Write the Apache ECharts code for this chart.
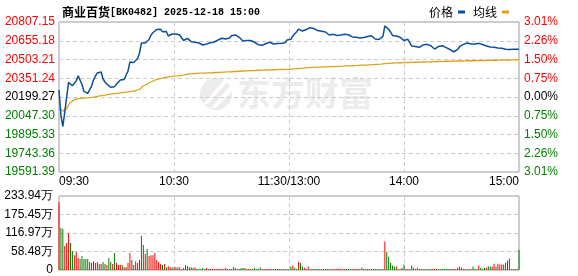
<!DOCTYPE html>
<html><head><meta charset="utf-8">
<script src="https://cdn.jsdelivr.net/npm/echarts@6/dist/echarts.min.js"></script>
<style>html,body{margin:0;padding:0;background:#fff}#c{width:578px;height:276px}</style>
</head><body><div id="c"></div>
<script>
const titleName = '商业百货';
const titleInfo = '[BK0482] 2025-12-18 15:00';
const preClose = 20199.27;
const priceStep = 151.97;
const volMax = 233.94;
const volStep = 58.485;
const tickIdx = [0, 60, 120, 180, 240];
const tickLabels = ['09:30', '10:30', '11:30/13:00', '14:00', '15:00'];
const seriesNames = ['价格', '均线'];

const price = [
20256,20050,19960,20075,20200,20318,20305,20290,20282,20330,
20372,20361,20300,20245,20232,20229,20240,20288,20337,20369,
20394,20390,20402,20345,20321,20304,20288,20278,20280,20283,
20304,20316,20337,20343,20341,20353,20410,20483,20467,20479,
20491,20511,20556,20637,20645,20637,20649,20665,20702,20720,
20730,20746,20748,20748,20729,20716,20730,20694,20706,20710,
20702,20710,20702,20702,20694,20657,20648,20674,20661,20648,
20656,20643,20639,20637,20629,20621,20613,20629,20639,20639,
20645,20645,20653,20661,20673,20675,20675,20669,20667,20677,
20696,20702,20702,20694,20683,20667,20653,20649,20657,20661,
20657,20648,20643,20633,20623,20621,20618,20621,20633,20639,
20643,20633,20629,20631,20633,20634,20634,20634,20639,20661,
20675,20667,20694,20702,20729,20750,20756,20734,20726,20746,
20756,20761,20764,20754,20749,20738,20732,20732,20730,20726,
20714,20702,20702,20707,20704,20698,20702,20702,20706,20707,
20707,20704,20698,20686,20683,20683,20680,20677,20675,20681,
20686,20690,20694,20696,20683,20669,20664,20665,20675,20690,
20775,20771,20750,20726,20698,20694,20694,20688,20683,20669,
20657,20665,20667,20653,20613,20615,20609,20602,20602,20602,
20621,20626,20626,20621,20615,20600,20588,20602,20609,20617,
20615,20607,20600,20592,20584,20572,20566,20574,20586,20607,
20621,20626,20630,20637,20641,20629,20629,20629,20621,20634,
20629,20625,20615,20613,20610,20604,20602,20602,20600,20596,
20595,20594,20586,20586,20586,20585,20586,20586,20585,20586,
20586
];

const avgPrice = [
20110,20098,20085,20088,20105,20135,20155,20168,20178,20183,
20186,20188,20189,20190,20192,20193,20195,20197,20199,20202,
20205,20208,20211,20213,20215,20217,20220,20222,20224,20226,
20228,20230,20232,20234,20236,20238,20240,20243,20245,20247,
20250,20254,20262,20272,20288,20298,20305,20313,20321,20330,
20337,20343,20347,20350,20353,20358,20361,20363,20365,20367,
20368,20369,20371,20373,20375,20378,20381,20384,20386,20387,
20388,20389,20390,20391,20392,20392,20393,20394,20395,20396,
20396,20397,20398,20399,20399,20400,20401,20402,20403,20404,
20404,20405,20406,20407,20408,20409,20410,20411,20411,20412,
20413,20413,20414,20415,20416,20416,20417,20418,20418,20419,
20419,20420,20420,20421,20421,20422,20422,20423,20423,20424,
20424,20425,20426,20428,20429,20431,20432,20433,20434,20436,
20437,20438,20439,20440,20441,20442,20442,20443,20443,20444,
20444,20445,20445,20446,20446,20447,20448,20448,20449,20450,
20451,20451,20452,20453,20454,20455,20455,20456,20457,20458,
20458,20459,20460,20461,20462,20463,20464,20465,20466,20467,
20469,20471,20472,20473,20474,20475,20476,20476,20477,20478,
20478,20479,20479,20480,20480,20481,20481,20482,20482,20483,
20483,20484,20484,20485,20485,20486,20486,20487,20487,20488,
20488,20488,20489,20489,20489,20490,20490,20490,20491,20491,
20491,20492,20492,20492,20493,20493,20493,20494,20494,20494,
20495,20495,20495,20496,20496,20496,20497,20497,20497,20498,
20498,20499,20499,20499,20499,20500,20500,20500,20500,20501,
20501
];

// volume in 万
const volume = [
215,133,130,76,85,117,85,60,47,57,
38,35,44,35,35,35,25,22,28,22,
25,19,19,25,19,16,38,25,19,54,
22,16,16,16,9,9,22,54,32,16,
28,22,32,108,79,51,66,44,47,47,
54,32,25,19,16,19,9,13,9,9,
9,9,9,9,3,6,16,13,9,9,
6,9,3,3,3,6,3,6,3,3,
3,3,3,3,3,3,3,6,3,3,
3,9,6,3,3,6,6,6,3,3,
3,3,6,3,3,9,3,3,3,3,
3,3,3,3,3,3,3,3,3,3,
3,11,14,7,3,26,23,11,7,3,
11,4,3,3,3,3,3,3,3,3,
3,3,3,3,3,3,3,3,3,3,
3,3,3,3,3,3,3,3,7,3,
3,3,3,3,3,3,3,3,3,3,
90,58,42,23,14,11,11,3,3,7,
17,3,3,3,14,7,3,7,3,3,
3,3,3,3,3,3,3,3,3,3,
3,3,3,3,3,3,3,3,7,11,
7,3,3,3,3,3,11,3,3,14,
7,3,7,7,11,11,11,20,11,20,
17,17,17,23,30,36,3,3,3,3,
64
];

// 1 = up (red), 0 = down (green)
const volUp = [
1,0,0,1,1,1,0,0,1,1,
1,0,0,0,0,0,1,1,1,1,
1,0,1,0,0,1,0,0,1,0,
1,1,1,0,1,1,1,1,0,1,
1,1,1,1,0,1,0,1,1,1,
1,1,1,1,0,1,0,1,1,0,
1,0,1,1,0,0,0,0,1,0,
0,1,0,0,0,0,0,1,0,1,
1,1,1,1,1,1,1,1,0,0,
0,1,0,0,1,0,0,0,1,1,
0,1,0,0,0,0,1,1,1,1,
1,0,0,0,1,0,0,1,0,0,
0,0,1,0,0,1,0,0,1,1,
1,0,0,0,0,0,0,1,1,0,
0,0,1,1,1,1,1,1,1,1,
0,0,0,1,1,0,1,1,0,1,
1,1,1,1,0,0,0,0,0,0,
1,0,0,0,0,0,1,0,1,0,
0,1,1,1,0,0,1,1,1,1,
0,0,0,0,0,1,1,1,0,0,
0,0,0,0,1,1,1,1,1,1,
1,1,1,1,1,1,0,0,0,1,
0,0,0,1,0,0,1,1,0,1,
1,1,0,1,0,0,1,0,0,1,
0
];

// minute categories 09:30..11:30, 13:01..15:00
const times = [];
function pad(n){ return (n < 10 ? '0' : '') + n; }
for (let m = 9*60+30; m <= 11*60+30; m++) times.push(pad(Math.floor(m/60)) + ':' + pad(m%60));
for (let m = 13*60+1; m <= 15*60; m++) times.push(pad(Math.floor(m/60)) + ':' + pad(m%60));

const RED = '#ff0000', GREEN = '#008000', BLACK = '#000000';
const BLUE = '#0b4f9e', GOLD = '#dea21c';
const labelFont = 'Arial, "Liberation Sans", sans-serif';
const richStyles = {
  r: { color: RED, fontSize: 12, fontFamily: labelFont },
  g: { color: GREEN, fontSize: 12, fontFamily: labelFont },
  k: { color: BLACK, fontSize: 12, fontFamily: labelFont }
};
function cls(v){ return v > 1e-9 ? 'r' : (v < -1e-9 ? 'g' : 'k'); }

const splitDash = { show: true, lineStyle: { color: '#cccccc', type: [4, 3], width: 1 } };
const vSplit = {
  show: true,
  interval: function (idx) { return idx === 60 || idx === 120 || idx === 180; },
  lineStyle: { color: '#cccccc', type: [4, 3], width: 1 }
};

const chart = echarts.init(document.getElementById('c'), null, { renderer: 'canvas' });
chart.setOption({
  animation: false,
  backgroundColor: '#ffffff',
  title: {
    text: '{c|' + titleName + '}{m|' + titleInfo + '}',
    left: 57, top: 1,
    textStyle: {
      rich: {
        c: { fontSize: 12, fontFamily: '"Noto Sans CJK SC"', color: '#000' },
        m: { fontSize: 10, fontFamily: '"Liberation Mono", monospace', color: '#000' }
      }
    }
  },
  legend: {
    data: seriesNames,
    right: 64, top: 1,
    align: 'right',
    icon: 'rect',
    itemWidth: 7, itemHeight: 3, itemGap: 8,
    textStyle: { fontSize: 12, fontFamily: '"Noto Sans CJK SC"', color: '#000' }
  },
  graphic: [
    { type: 'circle', z: 0, shape: { cx: 216, cy: 94, r: 16 }, style: { fill: '#ececec' }, silent: true },
    { type: 'polygon', z: 0, shape: { points: [[203, 104], [224, 80], [229, 80], [208, 104]] }, style: { fill: '#ffffff' }, silent: true },
    { type: 'polygon', z: 0, shape: { points: [[211, 108], [230, 86], [233, 90], [216, 108]] }, style: { fill: '#ffffff' }, silent: true },
    { type: 'text', z: 0, left: 237, top: 76, silent: true,
      style: { text: '东方财富', fontSize: 34, fontWeight: 'bold', fontFamily: '"Noto Sans CJK SC"', fill: '#ececec' } }
  ],
  grid: [
    { left: 59, top: 22, width: 460, height: 150, show: true, borderColor: '#999999', borderWidth: 1, backgroundColor: 'transparent' },
    { left: 59, top: 196, width: 460, height: 74, show: true, borderColor: '#999999', borderWidth: 1, backgroundColor: 'transparent' }
  ],
  xAxis: [
    {
      type: 'category', gridIndex: 0, data: times, boundaryGap: false,
      axisLine: { show: false }, axisTick: { show: false },
      axisLabel: {
        interval: function (idx) { return tickIdx.indexOf(idx) >= 0; },
        formatter: function (v, idx) { const k = tickIdx.indexOf(idx); return k >= 0 ? tickLabels[k] : ''; },
        color: '#000', fontSize: 12, fontFamily: labelFont, margin: 4,
        alignMinLabel: 'left', alignMaxLabel: 'right'
      },
      splitLine: vSplit
    },
    {
      type: 'category', gridIndex: 1, data: times, boundaryGap: false,
      axisLine: { show: false }, axisTick: { show: false }, axisLabel: { show: false },
      splitLine: vSplit
    }
  ],
  yAxis: [
    {
      type: 'value', gridIndex: 0, min: -4, max: 4, interval: 1,
      axisLine: { show: false }, axisTick: { show: false },
      axisLabel: {
        margin: 4,
        formatter: function (v) { return '{' + cls(v) + '|' + (preClose + v * priceStep).toFixed(2) + '}'; },
        rich: richStyles
      },
      splitLine: splitDash
    },
    {
      type: 'value', gridIndex: 0, position: 'right', min: -4, max: 4, interval: 1,
      axisLine: { show: false }, axisTick: { show: false },
      axisLabel: {
        margin: 5,
        formatter: function (v) { return '{' + cls(v) + '|' + Math.abs(v * priceStep / preClose * 100).toFixed(2) + '%}'; },
        rich: richStyles
      },
      splitLine: { show: false }
    },
    {
      type: 'value', gridIndex: 1, min: 0, max: volMax, interval: volStep,
      axisLine: { show: false }, axisTick: { show: false },
      axisLabel: {
        margin: 6, color: '#000', fontSize: 12, fontFamily: labelFont,
        formatter: function (v) { return v === 0 ? '0' : (Math.floor(v * 100 + 1e-6) / 100).toFixed(2) + '万'; }
      },
      splitLine: splitDash
    }
  ],
  series: [
    {
      name: seriesNames[0], type: 'line', xAxisIndex: 0, yAxisIndex: 0, z: 4,
      data: price.map(function (p) { return (p - preClose) / priceStep; }),
      showSymbol: false, symbol: 'none',
      itemStyle: { color: BLUE }, lineStyle: { color: BLUE, width: 1.5 }
    },
    {
      name: seriesNames[1], type: 'line', xAxisIndex: 0, yAxisIndex: 0, z: 3,
      data: avgPrice.map(function (p) { return (p - preClose) / priceStep; }),
      showSymbol: false, symbol: 'none',
      itemStyle: { color: GOLD }, lineStyle: { color: GOLD, width: 1.3 }
    },
    {
      name: '成交量', type: 'bar', xAxisIndex: 1, yAxisIndex: 2, barWidth: 1,
      data: volume.map(function (v, i) { return { value: v, itemStyle: { color: volUp[i] ? RED : GREEN } }; })
    }
  ]
});
</script>
</body></html>
